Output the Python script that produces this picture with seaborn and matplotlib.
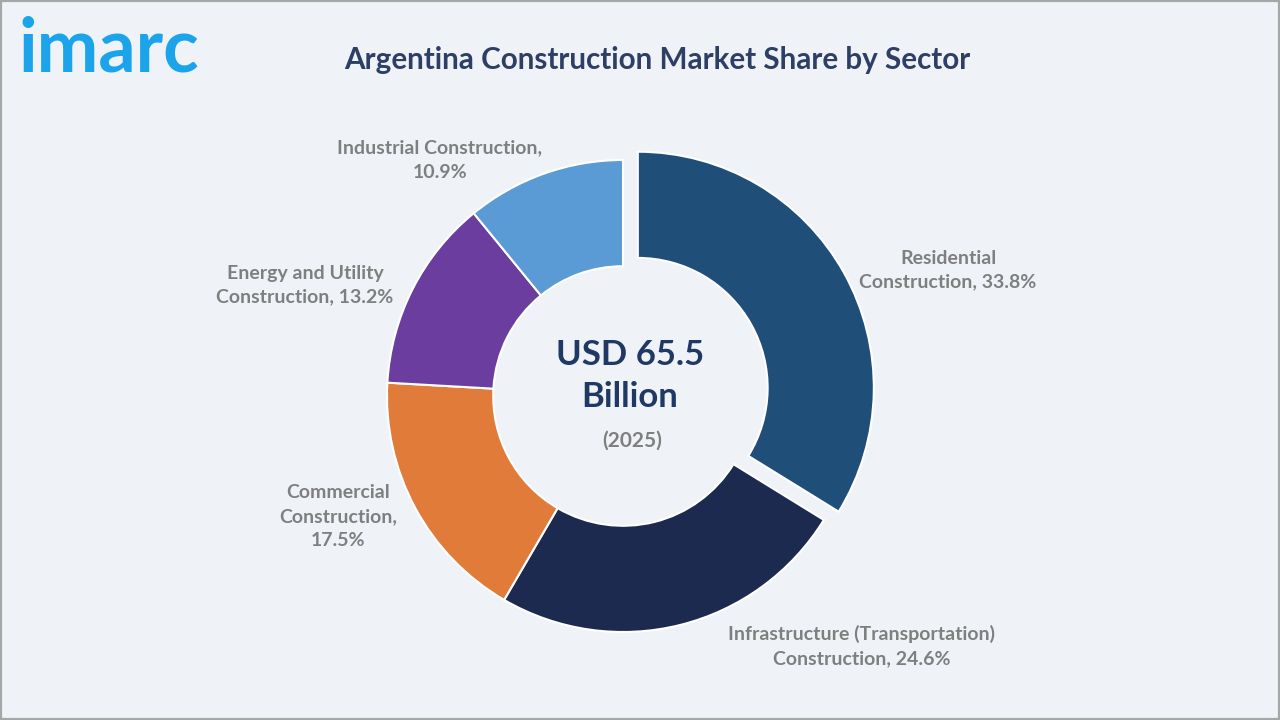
import matplotlib
matplotlib.use("Agg")
import matplotlib.pyplot as plt
import seaborn as sns
from matplotlib.patches import Rectangle

# ---- data ----
sectors = [
    "Residential Construction",
    "Infrastructure (Transportation) Construction",
    "Commercial Construction",
    "Energy and Utility Construction",
    "Industrial Construction",
]
shares = [33.8, 24.6, 17.5, 13.2, 10.9]
label_texts = [
    "Residential\nConstruction, 33.8%",
    "Infrastructure (Transportation)\nConstruction, 24.6%",
    "Commercial\nConstruction,\n17.5%",
    "Energy and Utility\nConstruction, 13.2%",
    "Industrial Construction,\n10.9%",
]
colors = ["#1f4e79", "#1c2a4f", "#e07b39", "#6a3d9e", "#5b9bd5"]
explode_frac = [0.072, 0, 0, 0, 0]
title = "Argentina Construction Market Share by Sector"
center_value = "USD 65.5\nBillion"
center_year = "(2025)"

# ---- style ----
sns.set_theme(style="white")
plt.rcParams["font.family"] = ["Lato", "DejaVu Sans"]

BG = "#eff3f8"
W, H = 1280, 720
fig = plt.figure(figsize=(12.8, 7.2), dpi=100, facecolor=BG)
ax = fig.add_axes([0, 0, 1, 1])
ax.set_facecolor(BG)

cx, cy, R = 623, H - 396, 236
wedges, _ = ax.pie(
    shares,
    colors=colors,
    explode=[e * R for e in explode_frac],
    startangle=90,
    counterclock=False,
    radius=R,
    center=(cx, cy),
    wedgeprops=dict(width=R * 0.45, edgecolor="white", linewidth=1.5),
    frame=True,
)
ax.set_xlim(0, W)
ax.set_ylim(0, H)
ax.set_aspect("auto")
ax.axis("off")

# border
fig.patches.append(Rectangle((0, 0), 1, 1, transform=fig.transFigure,
                             fill=False, edgecolor="#a6a6a6", linewidth=3))

# labels (pixel positions of text centers, from top)
label_pos = [(948, 270), (862, 646), (338, 517), (305, 285), (440, 160)]
label_color = "#7f7f7f"
for txt, (x, y) in zip(label_texts, label_pos):
    ax.text(x, H - y, txt, ha="center", va="center", fontsize=14,
            fontweight="bold", color=label_color, linespacing=1.5)

# center text
ax.text(cx + 7, H - 376, center_value, ha="center", va="center", fontsize=25,
        fontweight="bold", color="#1f3864", linespacing=1.35)
ax.text(cx + 9, H - 441, center_year, ha="center", va="center", fontsize=15,
        fontweight="bold", color="#7f7f7f")

# title
fig.text(657 / W, 1 - 60 / H, title, ha="center", va="center", fontsize=21.3,
         fontweight="bold", color="#2e3f66")

# logo
fig.text(18 / W, 1 - 50 / H, "imarc", ha="left", va="center", fontsize=53,
         fontweight="bold", color="#1ba4ea")

fig.savefig("out.png", dpi=100, facecolor=BG)
